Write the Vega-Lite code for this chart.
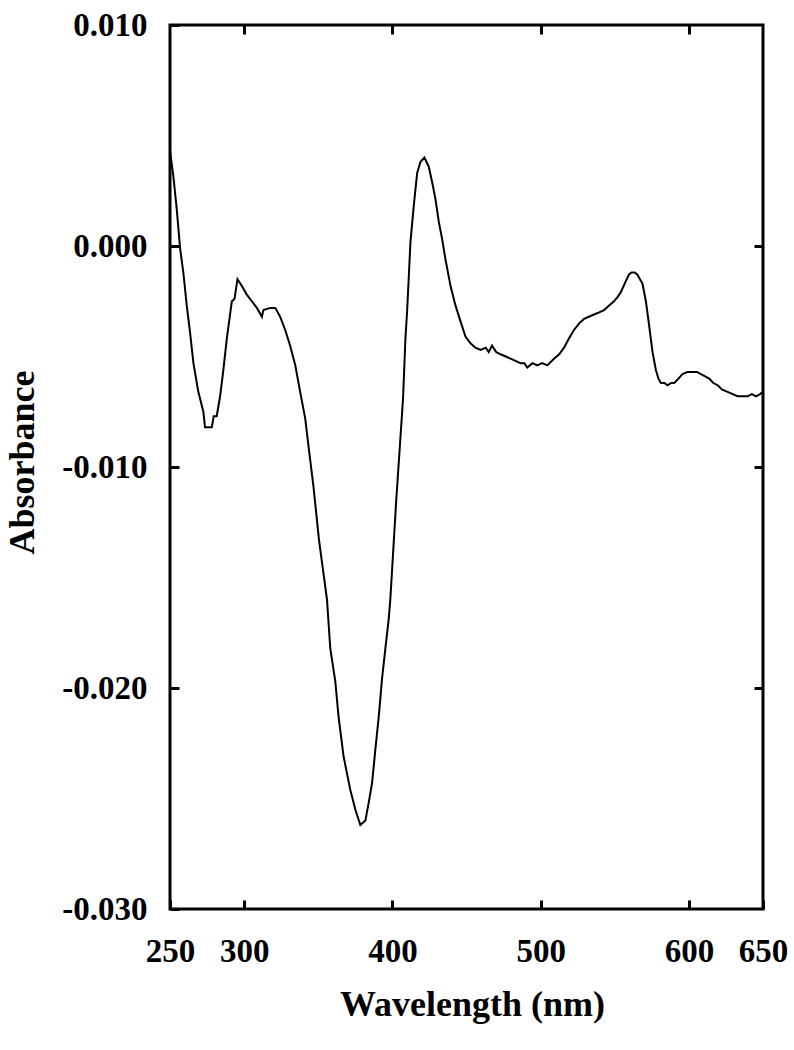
{
  "$schema": "https://vega.github.io/schema/vega-lite/v6.json",
  "width": 593,
  "height": 884,
  "autosize": "none",
  "padding": {"left": 170, "top": 25, "right": 31, "bottom": 141},
  "background": "white",
  "config": {
    "font": "Liberation Serif",
    "view": {"stroke": "black", "strokeWidth": 3},
    "axis": {"grid": false, "domain": false, "labelFont": "Liberation Serif", "titleFont": "Liberation Serif", "labelFontWeight": "bold", "titleFontWeight": "bold", "labelColor": "black", "titleColor": "black", "tickColor": "black"}
  },
  "data": {"values": [
    {"wl": 250.0, "a": 0.0043},
    {"wl": 252.2, "a": 0.0032},
    {"wl": 254.5, "a": 0.0017},
    {"wl": 256.8, "a": -0.0001},
    {"wl": 259.0, "a": -0.0012},
    {"wl": 261.3, "a": -0.0027},
    {"wl": 263.5, "a": -0.0039},
    {"wl": 265.8, "a": -0.0053},
    {"wl": 269.1, "a": -0.0066},
    {"wl": 272.5, "a": -0.0075},
    {"wl": 273.6, "a": -0.0082},
    {"wl": 276.0, "a": -0.0082},
    {"wl": 278.2, "a": -0.0082},
    {"wl": 279.5, "a": -0.0077},
    {"wl": 281.5, "a": -0.0077},
    {"wl": 283.8, "a": -0.0068},
    {"wl": 286.0, "a": -0.0056},
    {"wl": 288.3, "a": -0.0042},
    {"wl": 291.7, "a": -0.0025},
    {"wl": 293.5, "a": -0.0024},
    {"wl": 295.5, "a": -0.0015},
    {"wl": 298.4, "a": -0.0018},
    {"wl": 301.8, "a": -0.0022},
    {"wl": 305.2, "a": -0.0025},
    {"wl": 308.6, "a": -0.0028},
    {"wl": 312.0, "a": -0.0032},
    {"wl": 313.0, "a": -0.0029},
    {"wl": 317.6, "a": -0.0028},
    {"wl": 321.0, "a": -0.0028},
    {"wl": 324.3, "a": -0.0032},
    {"wl": 327.7, "a": -0.0038},
    {"wl": 331.0, "a": -0.0045},
    {"wl": 334.5, "a": -0.0054},
    {"wl": 337.8, "a": -0.0066},
    {"wl": 341.2, "a": -0.0078},
    {"wl": 343.5, "a": -0.0091},
    {"wl": 346.8, "a": -0.0109},
    {"wl": 350.5, "a": -0.0133},
    {"wl": 353.5, "a": -0.0148},
    {"wl": 355.9, "a": -0.0160},
    {"wl": 358.1, "a": -0.0182},
    {"wl": 361.5, "a": -0.0197},
    {"wl": 363.7, "a": -0.0213},
    {"wl": 367.1, "a": -0.0231},
    {"wl": 371.6, "a": -0.0246},
    {"wl": 375.0, "a": -0.0255},
    {"wl": 378.4, "a": -0.0262},
    {"wl": 381.8, "a": -0.0260},
    {"wl": 384.0, "a": -0.0252},
    {"wl": 386.3, "a": -0.0243},
    {"wl": 388.5, "a": -0.0228},
    {"wl": 390.8, "a": -0.0213},
    {"wl": 393.0, "a": -0.0196},
    {"wl": 395.3, "a": -0.0182},
    {"wl": 397.5, "a": -0.0169},
    {"wl": 398.6, "a": -0.0160},
    {"wl": 402.7, "a": -0.0114},
    {"wl": 407.2, "a": -0.0069},
    {"wl": 408.8, "a": -0.0042},
    {"wl": 409.9, "a": -0.0030},
    {"wl": 411.0, "a": -0.0015},
    {"wl": 412.2, "a": 0.0002},
    {"wl": 414.4, "a": 0.0018},
    {"wl": 416.7, "a": 0.0033},
    {"wl": 418.9, "a": 0.0038},
    {"wl": 421.6, "a": 0.0040},
    {"wl": 424.5, "a": 0.0036},
    {"wl": 426.8, "a": 0.0029},
    {"wl": 429.1, "a": 0.0021},
    {"wl": 431.3, "a": 0.0011},
    {"wl": 433.6, "a": 0.0003},
    {"wl": 435.8, "a": -0.0006},
    {"wl": 439.2, "a": -0.0018},
    {"wl": 442.6, "a": -0.0027},
    {"wl": 445.9, "a": -0.0034},
    {"wl": 449.3, "a": -0.0041},
    {"wl": 452.7, "a": -0.0044},
    {"wl": 456.0, "a": -0.0046},
    {"wl": 459.5, "a": -0.0047},
    {"wl": 463.0, "a": -0.0046},
    {"wl": 465.0, "a": -0.0048},
    {"wl": 467.2, "a": -0.0045},
    {"wl": 470.0, "a": -0.0048},
    {"wl": 473.0, "a": -0.0049},
    {"wl": 476.5, "a": -0.0050},
    {"wl": 479.7, "a": -0.0051},
    {"wl": 483.0, "a": -0.0052},
    {"wl": 486.5, "a": -0.0053},
    {"wl": 489.0, "a": -0.0053},
    {"wl": 491.0, "a": -0.0055},
    {"wl": 494.5, "a": -0.0053},
    {"wl": 497.7, "a": -0.0054},
    {"wl": 501.0, "a": -0.0053},
    {"wl": 504.5, "a": -0.0054},
    {"wl": 509.0, "a": -0.0051},
    {"wl": 512.5, "a": -0.0049},
    {"wl": 515.8, "a": -0.0046},
    {"wl": 519.0, "a": -0.0042},
    {"wl": 522.5, "a": -0.0038},
    {"wl": 526.0, "a": -0.0035},
    {"wl": 529.3, "a": -0.0033},
    {"wl": 532.5, "a": -0.0032},
    {"wl": 536.0, "a": -0.0031},
    {"wl": 539.5, "a": -0.0030},
    {"wl": 542.8, "a": -0.0029},
    {"wl": 546.0, "a": -0.0027},
    {"wl": 549.5, "a": -0.0025},
    {"wl": 552.0, "a": -0.0023},
    {"wl": 554.0, "a": -0.0021},
    {"wl": 557.4, "a": -0.0016},
    {"wl": 559.5, "a": -0.0013},
    {"wl": 561.3, "a": -0.0012},
    {"wl": 563.5, "a": -0.0012},
    {"wl": 565.3, "a": -0.0013},
    {"wl": 567.0, "a": -0.0015},
    {"wl": 568.7, "a": -0.0017},
    {"wl": 571.0, "a": -0.0025},
    {"wl": 573.2, "a": -0.0036},
    {"wl": 575.5, "a": -0.0048},
    {"wl": 577.7, "a": -0.0056},
    {"wl": 579.5, "a": -0.0060},
    {"wl": 581.1, "a": -0.0062},
    {"wl": 583.5, "a": -0.0062},
    {"wl": 585.6, "a": -0.0063},
    {"wl": 588.0, "a": -0.0062},
    {"wl": 590.1, "a": -0.0062},
    {"wl": 593.0, "a": -0.0060},
    {"wl": 595.7, "a": -0.0058},
    {"wl": 599.0, "a": -0.0057},
    {"wl": 602.5, "a": -0.0057},
    {"wl": 605.5, "a": -0.0057},
    {"wl": 608.1, "a": -0.0058},
    {"wl": 611.0, "a": -0.0059},
    {"wl": 613.7, "a": -0.0060},
    {"wl": 616.5, "a": -0.0062},
    {"wl": 619.4, "a": -0.0063},
    {"wl": 622.5, "a": -0.0065},
    {"wl": 626.1, "a": -0.0066},
    {"wl": 629.5, "a": -0.0067},
    {"wl": 632.9, "a": -0.0068},
    {"wl": 636.0, "a": -0.0068},
    {"wl": 639.6, "a": -0.0068},
    {"wl": 642.5, "a": -0.0067},
    {"wl": 645.3, "a": -0.0068},
    {"wl": 648.0, "a": -0.0067},
    {"wl": 650.0, "a": -0.0066}
  ]},
  "layer": [
    {
      "mark": {"type": "line", "color": "black", "strokeWidth": 2, "clip": true},
      "encoding": {
        "x": {"field": "wl", "type": "quantitative", "scale": {"domain": [250, 650], "nice": false, "zero": false},
          "axis": {"orient": "bottom", "title": "Wavelength (nm)", "values": [250, 300, 400, 500, 600, 650], "labelFontSize": 33, "titleFontSize": 36, "tickSize": -9, "tickWidth": 3, "labelPadding": 35, "labelFlush": false, "titleX": 302, "titleY": 78, "titleBaseline": "top"}},
        "y": {"field": "a", "type": "quantitative", "scale": {"domain": [-0.03, 0.01], "nice": false, "zero": false},
          "axis": {"orient": "left", "title": "Absorbance", "values": [-0.03, -0.02, -0.01, 0, 0.01], "labelExpr": "datum.value < -0.0000001 ? '-' + format(-datum.value, '.3f') : format(abs(datum.value), '.3f')", "labelFontSize": 33, "titleFontSize": 36, "tickSize": -9, "tickWidth": 3, "labelPadding": 32, "labelFlush": false, "titleX": -137, "titleY": 437, "titleBaseline": "alphabetic"}}
      }
    },
    {
      "mark": {"type": "line", "color": "black", "strokeWidth": 2, "opacity": 0},
      "encoding": {
        "x": {"field": "wl", "type": "quantitative", "scale": {"domain": [250, 650], "nice": false, "zero": false},
          "axis": {"orient": "top", "title": null, "labels": false, "values": [300, 400, 500, 600], "tickSize": -9, "tickWidth": 3}},
        "y": {"field": "a", "type": "quantitative", "scale": {"domain": [-0.03, 0.01], "nice": false, "zero": false},
          "axis": {"orient": "right", "title": null, "labels": false, "values": [-0.02, -0.01, 0], "tickSize": -9, "tickWidth": 3}}
      }
    }
  ],
  "resolve": {"axis": {"x": "independent", "y": "independent"}}
}
